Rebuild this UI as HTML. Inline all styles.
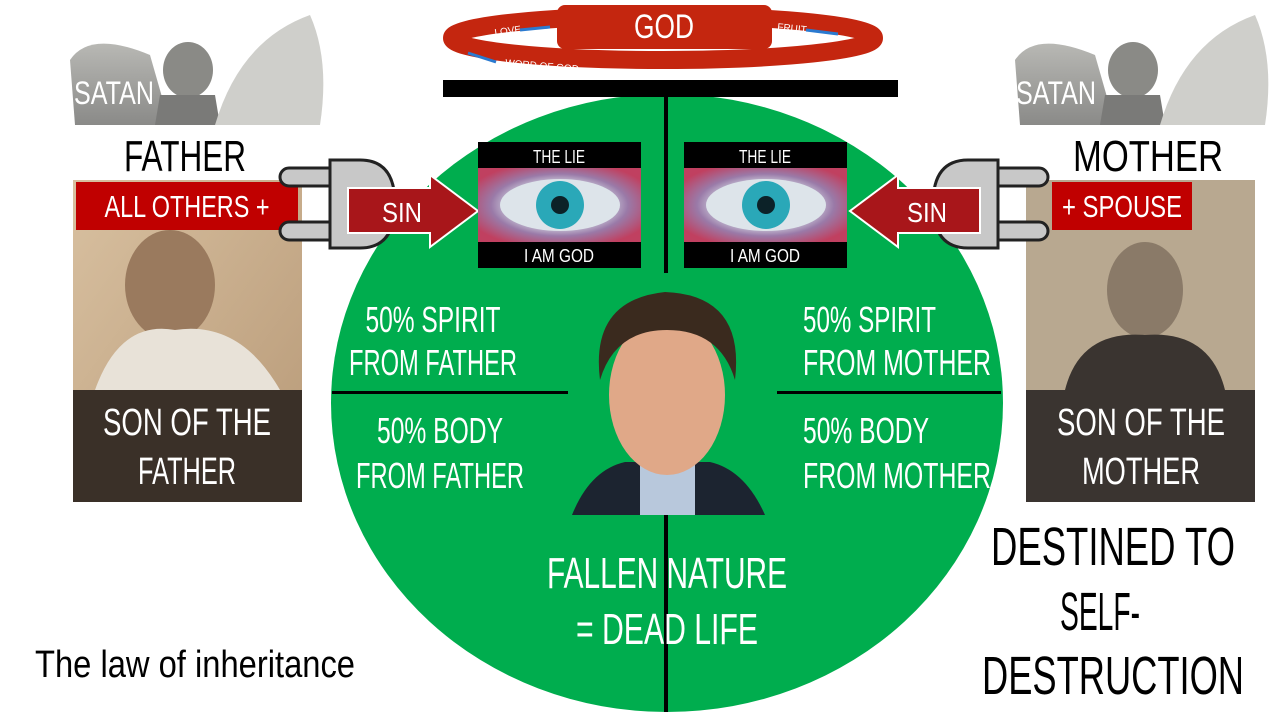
<!DOCTYPE html>
<html><head><meta charset="utf-8"><style>
html,body{margin:0;padding:0;background:#fff;}
svg{display:block}
text{font-family:"Liberation Sans",sans-serif;}
</style></head><body>
<svg width="1280" height="720" viewBox="0 0 1280 720" xmlns="http://www.w3.org/2000/svg">
<defs>
<radialGradient id="eye" cx="50%" cy="50%" r="60%">
<stop offset="0" stop-color="#1a3a40"/><stop offset="0.2" stop-color="#2ab0c0"/><stop offset="0.45" stop-color="#d8e0e8"/><stop offset="0.7" stop-color="#9a7aa8"/><stop offset="1" stop-color="#c04060"/>
</radialGradient>
<linearGradient id="stone" x1="0" y1="0" x2="0" y2="1"><stop offset="0" stop-color="#b8b8b4"/><stop offset="1" stop-color="#8a8a88"/></linearGradient>
<linearGradient id="sepia" x1="0" y1="0" x2="1" y2="1"><stop offset="0" stop-color="#d8c0a0"/><stop offset="1" stop-color="#b89a78"/></linearGradient>
</defs>

<!-- green ellipse -->
<ellipse cx="667" cy="403" rx="336" ry="309" fill="#00ad4e"/>

<!-- god halo -->
<ellipse cx="663" cy="38" rx="211" ry="22" fill="none" stroke="#c4260f" stroke-width="18"/>
<rect x="557" y="5" width="215" height="44" rx="8" fill="#c4260f"/>
<text x="664" y="38" font-size="34" fill="#fff" text-anchor="middle" textLength="60" lengthAdjust="spacingAndGlyphs">GOD</text>
<text x="495" y="36" font-size="10" fill="#fff" transform="rotate(-8 495 36)">LOVE</text>
<line x1="520" y1="30" x2="550" y2="27" stroke="#2a7ad0" stroke-width="3"/>
<text x="777" y="30" font-size="10" fill="#fff" transform="rotate(6 777 30)">FRUIT</text>
<line x1="806" y1="30" x2="838" y2="34" stroke="#2a7ad0" stroke-width="3"/>
<line x1="468" y1="53" x2="496" y2="62" stroke="#2a7ad0" stroke-width="3"/>
<text x="505" y="66" font-size="10" fill="#fff" transform="rotate(5 505 66)">WORD OF GOD</text>

<!-- black bar and lines -->
<rect x="443" y="80" width="455" height="17" fill="#000"/>
<rect x="664" y="97" width="4" height="176" fill="#000"/>
<rect x="664" y="515" width="4" height="197" fill="#000"/>
<rect x="332" y="391" width="236" height="3" fill="#000"/>
<rect x="777" y="391" width="224" height="3" fill="#000"/>

<!-- angels -->
<g>
<path d="M70 60 Q90 30 150 55 L170 125 L75 125 Z" fill="url(#stone)"/>
<ellipse cx="188" cy="70" rx="25" ry="28" fill="#8a8a86"/>
<path d="M160 95 L215 95 L220 125 L155 125 Z" fill="#7a7a78"/>
<path d="M215 125 Q240 40 310 15 Q330 60 320 125 Z" fill="#cfcfcb"/>
<text x="74" y="104" font-size="32" fill="#fff" textLength="80" lengthAdjust="spacingAndGlyphs">SATAN</text>
</g>
<g transform="translate(945 0)">
<path d="M70 60 Q90 30 150 55 L170 125 L75 125 Z" fill="url(#stone)"/>
<ellipse cx="188" cy="70" rx="25" ry="28" fill="#8a8a86"/>
<path d="M160 95 L215 95 L220 125 L155 125 Z" fill="#7a7a78"/>
<path d="M215 125 Q240 40 310 15 Q330 60 320 125 Z" fill="#cfcfcb"/>
<text x="71" y="104" font-size="32" fill="#fff" textLength="80" lengthAdjust="spacingAndGlyphs">SATAN</text>
</g>

<text x="185" y="171" font-size="44" fill="#000" text-anchor="middle" textLength="122" lengthAdjust="spacingAndGlyphs">FATHER</text>
<text x="1148" y="171" font-size="44" fill="#000" text-anchor="middle" textLength="150" lengthAdjust="spacingAndGlyphs">MOTHER</text>

<!-- photos -->
<rect x="73" y="180" width="229" height="322" fill="url(#sepia)"/>
<ellipse cx="170" cy="285" rx="45" ry="55" fill="#9a7a5e"/>
<path d="M95 390 Q120 320 175 330 Q240 320 280 390 Z" fill="#e8e2d8"/>
<rect x="73" y="390" width="229" height="112" fill="#3a3028"/>
<text x="187" y="435" font-size="38" fill="#fff" text-anchor="middle" textLength="168" lengthAdjust="spacingAndGlyphs">SON OF THE</text>
<text x="187" y="484" font-size="38" fill="#fff" text-anchor="middle" textLength="98" lengthAdjust="spacingAndGlyphs">FATHER</text>

<rect x="1026" y="180" width="229" height="322" fill="#b8a890"/>
<ellipse cx="1145" cy="290" rx="38" ry="48" fill="#8a7a68"/>
<path d="M1065 390 Q1080 330 1145 335 Q1210 330 1225 390 Z" fill="#3a3430"/>
<rect x="1026" y="390" width="229" height="112" fill="#3a3430"/>
<text x="1141" y="435" font-size="38" fill="#fff" text-anchor="middle" textLength="168" lengthAdjust="spacingAndGlyphs">SON OF THE</text>
<text x="1141" y="484" font-size="38" fill="#fff" text-anchor="middle" textLength="118" lengthAdjust="spacingAndGlyphs">MOTHER</text>

<!-- red labels -->
<rect x="76" y="182" width="222" height="48" fill="#c00000"/>
<text x="187" y="217" font-size="31" fill="#fff" text-anchor="middle" textLength="165" lengthAdjust="spacingAndGlyphs">ALL OTHERS +</text>
<rect x="1052" y="182" width="140" height="48" fill="#c00000"/>
<text x="1122" y="217" font-size="31" fill="#fff" text-anchor="middle" textLength="120" lengthAdjust="spacingAndGlyphs">+ SPOUSE</text>

<!-- plugs -->
<g fill="#c8c8c8" stroke="#222" stroke-width="3">
<rect x="280" y="168" width="80" height="18" rx="9"/>
<rect x="280" y="222" width="80" height="18" rx="9"/>
<path d="M330 160 L360 160 Q395 160 395 204 Q395 248 360 248 L330 248 Z"/>
<rect x="968" y="168" width="80" height="18" rx="9"/>
<rect x="968" y="222" width="80" height="18" rx="9"/>
<path d="M998 160 L968 160 Q933 160 933 204 Q933 248 968 248 L998 248 Z"/>
</g>

<!-- SIN arrows -->
<path d="M348 188 L430 188 L430 175 L478 211 L430 247 L430 233 L348 233 Z" fill="#a8161a" stroke="#fff" stroke-width="2"/>
<text x="402" y="222" font-size="28" fill="#fff" text-anchor="middle" textLength="40" lengthAdjust="spacingAndGlyphs">SIN</text>
<path d="M980 188 L898 188 L898 175 L850 211 L898 247 L898 233 L980 233 Z" fill="#a8161a" stroke="#fff" stroke-width="2"/>
<text x="927" y="222" font-size="28" fill="#fff" text-anchor="middle" textLength="40" lengthAdjust="spacingAndGlyphs">SIN</text>

<!-- eye boxes -->
<g>
<rect x="478" y="142" width="163" height="126" fill="#000"/>
<rect x="478" y="168" width="163" height="74" fill="url(#eye)"/>
<ellipse cx="560" cy="205" rx="60" ry="26" fill="#dde4ea"/>
<circle cx="560" cy="205" r="24" fill="#2aa8b8"/><circle cx="560" cy="205" r="9" fill="#0c2228"/>
<text x="559" y="163" font-size="18" fill="#fff" text-anchor="middle" textLength="52" lengthAdjust="spacingAndGlyphs">THE LIE</text>
<text x="559" y="262" font-size="18" fill="#fff" text-anchor="middle" textLength="70" lengthAdjust="spacingAndGlyphs">I AM GOD</text>
</g>
<g transform="translate(206 0)">
<rect x="478" y="142" width="163" height="126" fill="#000"/>
<rect x="478" y="168" width="163" height="74" fill="url(#eye)"/>
<ellipse cx="560" cy="205" rx="60" ry="26" fill="#dde4ea"/>
<circle cx="560" cy="205" r="24" fill="#2aa8b8"/><circle cx="560" cy="205" r="9" fill="#0c2228"/>
<text x="559" y="163" font-size="18" fill="#fff" text-anchor="middle" textLength="52" lengthAdjust="spacingAndGlyphs">THE LIE</text>
<text x="559" y="262" font-size="18" fill="#fff" text-anchor="middle" textLength="70" lengthAdjust="spacingAndGlyphs">I AM GOD</text>
</g>

<!-- face -->
<path d="M572 515 Q590 470 625 462 L710 462 Q745 470 765 515 Z" fill="#1c2430"/>
<rect x="640" y="460" width="55" height="55" fill="#b8c8dc"/>
<ellipse cx="667" cy="395" rx="58" ry="80" fill="#e0a888"/>
<path d="M600 380 Q590 300 665 292 Q745 295 735 380 Q720 330 667 330 Q615 330 600 380 Z" fill="#3a2a1e"/>

<!-- green texts -->
<g fill="#fff" font-size="36">
<text x="433" y="332" text-anchor="middle" textLength="135" lengthAdjust="spacingAndGlyphs">50% SPIRIT</text>
<text x="433" y="375" text-anchor="middle" textLength="168" lengthAdjust="spacingAndGlyphs">FROM FATHER</text>
<text x="440" y="443" text-anchor="middle" textLength="126" lengthAdjust="spacingAndGlyphs">50% BODY</text>
<text x="440" y="488" text-anchor="middle" textLength="168" lengthAdjust="spacingAndGlyphs">FROM FATHER</text>
<text x="803" y="332" textLength="133" lengthAdjust="spacingAndGlyphs">50% SPIRIT</text>
<text x="803" y="375" textLength="188" lengthAdjust="spacingAndGlyphs">FROM MOTHER</text>
<text x="803" y="443" textLength="126" lengthAdjust="spacingAndGlyphs">50% BODY</text>
<text x="803" y="488" textLength="188" lengthAdjust="spacingAndGlyphs">FROM MOTHER</text>
<text x="667" y="588" font-size="44" text-anchor="middle" textLength="240" lengthAdjust="spacingAndGlyphs">FALLEN NATURE</text>
<text x="667" y="644" font-size="44" text-anchor="middle" textLength="182" lengthAdjust="spacingAndGlyphs">= DEAD LIFE</text>
</g>

<text x="35" y="677" font-size="38" fill="#000" textLength="320" lengthAdjust="spacingAndGlyphs">The law of inheritance</text>
<g fill="#000" font-size="54" text-anchor="middle">
<text x="1113" y="565" textLength="244" lengthAdjust="spacingAndGlyphs">DESTINED TO</text>
<text x="1100" y="630" textLength="80" lengthAdjust="spacingAndGlyphs">SELF-</text>
<text x="1113" y="694" textLength="262" lengthAdjust="spacingAndGlyphs">DESTRUCTION</text>
</g>
</svg>
</body></html>
